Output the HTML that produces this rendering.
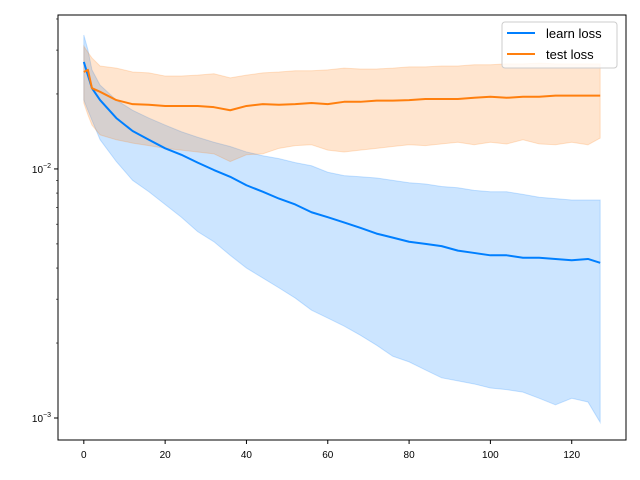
<!DOCTYPE html>
<html><head><meta charset="utf-8"><style>
body{margin:0;background:#fff}
svg{display:block;font-family:"Liberation Sans","DejaVu Sans",sans-serif}
</style></head><body>
<svg id="chart" width="640" height="480" viewBox="0 0 640 480">
<rect width="640" height="480" fill="#fff"/>
<g id="bands"></g>
<g id="lines"></g>
<g id="axes"></g>
<rect x="58" y="15" width="568" height="425" fill="none" stroke="#000" stroke-width="1"/>
<g>
<rect x="502" y="22" width="115" height="46" rx="3" fill="#fff" fill-opacity="0.8" stroke="#ccc"/>
<line x1="507" y1="33" x2="535" y2="33" stroke="#007fff" stroke-width="2"/>
<text x="546" y="38" font-size="13">learn loss</text>
<line x1="507" y1="54" x2="535" y2="54" stroke="#ff7f0e" stroke-width="2"/>
<text x="546" y="59" font-size="13">test loss</text>
</g>
</svg>
<script>
const epochs=[0,1,2,4,8,12,16,20,24,28,32,36,40,44,48,52,56,60,64,68,72,76,80,84,88,92,96,100,104,108,112,116,120,124,127];
const learnMean=[0.0269,0.0238,0.0211,0.0189,0.0160,0.0142,0.0131,0.0121,0.0114,0.0106,0.0099,0.0093,0.0086,0.0081,0.0076,0.0072,0.0067,0.0064,0.0061,0.0058,0.0055,0.0053,0.0051,0.0050,0.0049,0.0047,0.0046,0.0045,0.0045,0.0044,0.0044,0.00435,0.0043,0.00435,0.0042];
const learnUpper=[0.0345,0.0301,0.0250,0.0217,0.0189,0.0172,0.0160,0.0150,0.0141,0.0134,0.0128,0.0123,0.0117,0.0113,0.0110,0.0106,0.0103,0.0097,0.0094,0.0093,0.0092,0.0090,0.0088,0.0087,0.0085,0.0084,0.0082,0.0081,0.0081,0.0079,0.0077,0.0076,0.0075,0.0075,0.0075];
const learnLower=[0.0189,0.0172,0.0157,0.0131,0.0107,0.0090,0.0081,0.0072,0.0064,0.0056,0.0051,0.0045,0.0040,0.00365,0.00333,0.00303,0.00271,0.00252,0.00234,0.00215,0.00196,0.00177,0.00168,0.00156,0.00145,0.00141,0.00137,0.00132,0.00130,0.00127,0.00120,0.00113,0.00120,0.00116,0.00096];
const testMean=[0.0245,0.0250,0.0211,0.0204,0.0189,0.0182,0.0181,0.0179,0.0179,0.0179,0.0177,0.0172,0.0179,0.0182,0.0181,0.0182,0.0184,0.0182,0.0186,0.0186,0.0188,0.0188,0.0189,0.0191,0.0191,0.0191,0.0193,0.0195,0.0193,0.0195,0.0195,0.0197,0.0197,0.0197,0.0197];
const testUpper=[0.0311,0.0294,0.0279,0.0259,0.0254,0.0245,0.0243,0.0236,0.0236,0.0238,0.0241,0.0232,0.0238,0.0243,0.0245,0.0248,0.0248,0.0250,0.0254,0.0252,0.0252,0.0254,0.0257,0.0257,0.0259,0.0259,0.0262,0.0262,0.0264,0.0264,0.0266,0.0264,0.0264,0.0264,0.0264];
const testLower=[0.0184,0.0165,0.0150,0.0137,0.0131,0.0127,0.0124,0.0121,0.0119,0.0117,0.0115,0.0107,0.0114,0.0115,0.0121,0.0124,0.0125,0.0119,0.0117,0.0119,0.0121,0.0123,0.0125,0.0124,0.0126,0.0128,0.0125,0.0128,0.0126,0.0131,0.0126,0.0125,0.0128,0.0125,0.0133];
const xTicks=[0,20,40,60,80,100,120];
const yMajor=[0.01,0.001];
const yMajorLabels=["\u22122","\u22123"];
const yMinor=[0.002,0.003,0.004,0.005,0.006,0.007,0.008,0.009,0.02,0.03,0.04];

const NS="http://www.w3.org/2000/svg";
const X0=58,X1=626,Y0=15,Y1=440;
const xmin=-6.35,xmax=133.35;
const lmin=Math.log10(0.000816),lmax=Math.log10(0.0415);
function sx(v){return X0+(v-xmin)/(xmax-xmin)*(X1-X0);}
function sy(v){return Y1-(Math.log10(v)-lmin)/(lmax-lmin)*(Y1-Y0);}
function mk(tag,attrs,parent){const e=document.createElementNS(NS,tag);for(const k in attrs)e.setAttribute(k,attrs[k]);parent.appendChild(e);return e;}
const bands=document.getElementById('bands'),lines=document.getElementById('lines'),axes=document.getElementById('axes');
function band(up,lo,color,name){
  let d=epochs.map((x,i)=>(i?'L':'M')+sx(x).toFixed(2)+','+sy(up[i]).toFixed(2)).join('');
  for(let i=epochs.length-1;i>=0;i--)d+='L'+sx(epochs[i]).toFixed(2)+','+sy(lo[i]).toFixed(2);
  const p=mk('path',{d:d+'Z',fill:color,'fill-opacity':0.2,stroke:color,'stroke-opacity':0.2},bands);
  
  
}
function line(m,color,name){
  const d=epochs.map((x,i)=>(i?'L':'M')+sx(x).toFixed(2)+','+sy(m[i]).toFixed(2)).join('');
  const p=mk('path',{d:d,fill:'none',stroke:color,'stroke-width':2,'stroke-linejoin':'round'},lines);
  
  
}
band(learnUpper,learnLower,'#007fff');

band(testUpper,testLower,'#ff7f0e','test-loss-band');
line(learnMean,'#007fff','learn-loss-line');
line(testMean,'#ff7f0e','test-loss-line');
xTicks.forEach(t=>{
  const x=sx(t);
  const l=mk('line',{x1:x,x2:x,y1:Y1,y2:Y1+4,stroke:'#000'},axes);
  
  
  const tx=mk('text',{x:x,y:Y1+18,'font-size':10,'text-anchor':'middle'},axes);
  tx.textContent=String(t);
  
  
});
yMajor.forEach((v,i)=>{
  const y=sy(v);
  const l=mk('line',{x1:X0-4,x2:X0,y1:y,y2:y,stroke:'#000'},axes);
  
  
  const tx=mk('text',{x:X0-7,y:y+4,'font-size':10,'text-anchor':'end'},axes);
  tx.innerHTML='10<tspan dy="-5" font-size="7">'+yMajorLabels[i]+'</tspan>';
  
  
});
yMinor.forEach(v=>{
  const y=sy(v);
  const l=mk('line',{x1:X0-2,x2:X0,y1:y,y2:y,stroke:'#000','stroke-width':0.6},axes);
  
  
});
</script>
</body></html>
